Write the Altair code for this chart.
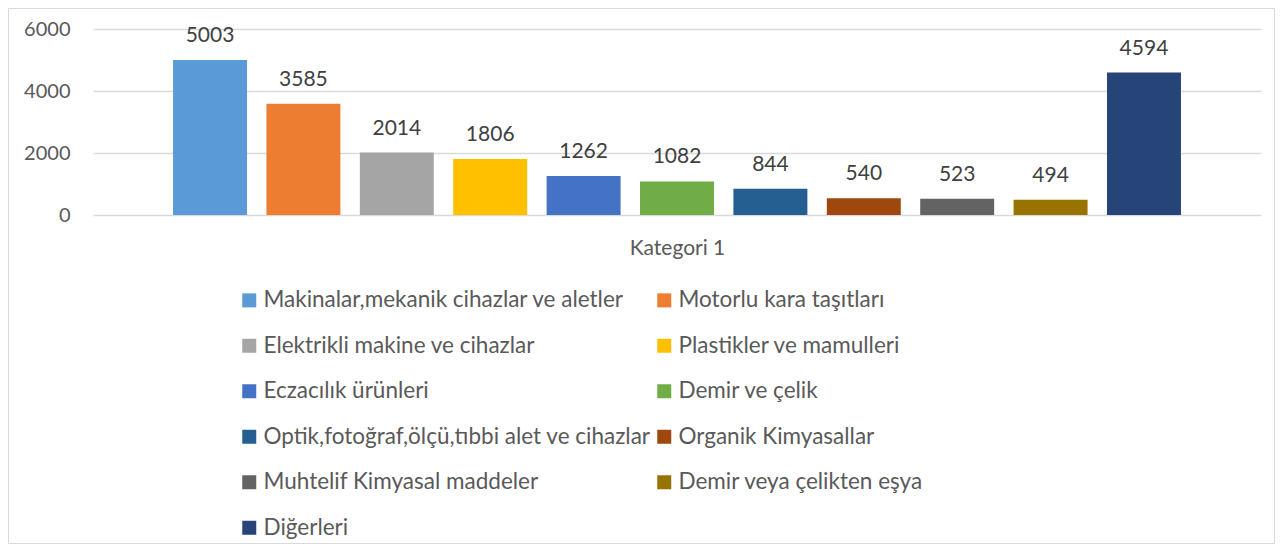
import altair as alt
import pandas as pd

series = [
    "Makinalar,mekanik cihazlar ve aletler",
    "Motorlu kara taşıtları",
    "Elektrikli makine ve cihazlar",
    "Plastikler ve mamulleri",
    "Eczacılık ürünleri",
    "Demir ve çelik",
    "Optik,fotoğraf,ölçü,tıbbi alet ve cihazlar",
    "Organik Kimyasallar",
    "Muhtelif Kimyasal maddeler",
    "Demir veya çelikten eşya",
    "Diğerleri",
]
values = [5003, 3585, 2014, 1806, 1262, 1082, 844, 540, 523, 494, 4594]
colors = ["#5B9BD5", "#ED7D31", "#A5A5A5", "#FFC000", "#4472C4", "#70AD47",
          "#255E91", "#9E480E", "#636363", "#997300", "#264478"]
y_ticks = [0, 2000, 4000, 6000]
category_title = "Kategori 1"

df = pd.DataFrame({"series": series, "value": values})

FONT = "Lato"
TXT = "#595959"
W, H = 1168, 186
PAD = {"left": 85, "top": 21, "right": 14, "bottom": 329}

x_enc = alt.X(
    "series:N",
    sort=series,
    scale=alt.Scale(paddingInner=0.208, paddingOuter=0.857),
    axis=alt.Axis(labels=False, ticks=False, domain=False, title=category_title,
                  titleFont=FONT, titleFontSize=21, titleFontWeight="normal",
                  titleColor=TXT, titlePadding=22),
)
y_enc = alt.Y(
    "value:Q",
    scale=alt.Scale(domain=[0, 6000], nice=False),
    axis=alt.Axis(values=y_ticks, format="d", title=None, domain=False, ticks=False,
                  labelFont=FONT, labelFontSize=20, labelColor=TXT,
                  labelPadding=23, gridColor="#D9D9D9", gridWidth=1.3),
)

bars = alt.Chart(df).mark_bar().encode(
    x=x_enc,
    y=y_enc,
    color=alt.Color(
        "series:N",
        sort=series,
        scale=alt.Scale(domain=series, range=colors),
        legend=alt.Legend(
            title=None, orient="none", legendX=145, legendY=260,
            columns=2, direction="horizontal",
            symbolType="square", symbolSize=196, symbolStrokeWidth=0,
            labelFont=FONT, labelFontSize=22.5, labelColor=TXT,
            labelOffset=3, rowPadding=22.5, columnPadding=2, labelLimit=600,
        ),
    ),
)

labels = alt.Chart(df).mark_text(
    baseline="alphabetic", dy=-18, font=FONT, fontSize=21, color="#404040"
).encode(
    x=alt.X("series:N", sort=series),
    y="value:Q",
    text="value:Q",
)

border = alt.Chart(pd.DataFrame({"b": [0]})).mark_rect(
    fillOpacity=0, stroke="#D9D9D9", strokeWidth=1
).encode(
    x=alt.value(-84.5),
    x2=alt.value(W + PAD["right"] - 0.5),
    y=alt.value(-20.5),
    y2=alt.value(H + PAD["bottom"] - 0.5),
)

chart = alt.layer(bars, labels, border).properties(
    width=W, height=H, padding=PAD, autosize=alt.AutoSizeParams(type="none")
).configure_view(stroke=None)

chart.save("out.html", embed_options={"renderer": "svg", "actions": False})
